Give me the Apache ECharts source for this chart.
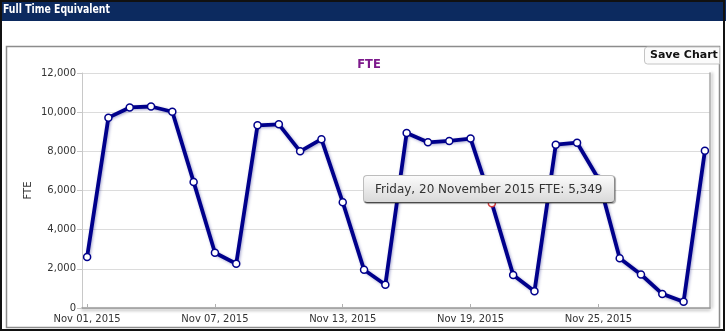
<!DOCTYPE html>
<html>
<head>
<meta charset="utf-8">
<title>Full Time Equivalent</title>
<script src="https://cdn.jsdelivr.net/npm/echarts@6/dist/echarts.min.js"></script>
<style>
  html, body { margin: 0; padding: 0; background: #ffffff; }
  #chart { width: 726px; height: 332px; }
</style>
</head>
<body>
<div id="chart"></div>
<script>
// November 2015, one reading per day
const year = 2015;
const monthIndex = 10;
const days = [1, 2, 3, 4, 5, 6, 7, 8, 9, 10, 11, 12, 13, 14, 15,
              16, 17, 18, 19, 20, 21, 22, 23, 24, 25, 26, 27, 28, 29, 30];
const fte = [2600, 9720, 10240, 10290, 10020, 6440, 2820, 2260, 9330, 9380,
             8000, 8620, 5400, 1950, 1190, 8940, 8460, 8530, 8650, 5349,
             1690, 850, 8340, 8440, 6600, 2540, 1710, 720, 320, 8030];
const tickDays = [1, 7, 13, 19, 25];
const yTicks = [0, 2000, 4000, 6000, 8000, 10000, 12000];
const selectedDay = 20;

const monthShort = ['Jan', 'Feb', 'Mar', 'Apr', 'May', 'Jun', 'Jul', 'Aug', 'Sep', 'Oct', 'Nov', 'Dec'];
const monthLong = ['January', 'February', 'March', 'April', 'May', 'June', 'July',
                   'August', 'September', 'October', 'November', 'December'];
const weekdayLong = ['Sunday', 'Monday', 'Tuesday', 'Wednesday', 'Thursday', 'Friday', 'Saturday'];

const pad2 = n => (n < 10 ? '0' : '') + n;
const fmtNum = v => Math.round(v).toLocaleString('en-US');
const axisDate = d => monthShort[monthIndex] + ' ' + pad2(d) + ', ' + year;
const tipDate = d => {
  const dt = new Date(year, monthIndex, d);
  return weekdayLong[dt.getDay()] + ', ' + d + ' ' + monthLong[monthIndex] + ' ' + year;
};

const lineColor = '#00008b';
const labelFont = '"DejaVu Sans", Verdana, sans-serif';

const seriesData = days.map((d, i) => {
  const item = { value: [d, fte[i]] };
  if (d === selectedDay) {
    item.itemStyle = { color: '#ffffff', borderColor: '#d23a3a', borderWidth: 1.5 };
  }
  return item;
});

const chart = echarts.init(document.getElementById('chart'), null, { renderer: 'canvas' });

const option = {
  animation: false,
  backgroundColor: '#ffffff',
  title: {
    text: 'FTE',
    left: 364,
    top: 54,
    textAlign: 'center',
    textStyle: { color: '#7d1a8c', fontSize: 11.5, fontWeight: 'bold', fontFamily: labelFont }
  },
  graphic: [
    // page frame and header bar
    { type: 'rect', shape: { x: 0, y: 0, width: 726, height: 21 }, style: { fill: '#0c2a5f' }, silent: true },
    { type: 'text', x: 3, y: 3, scaleX: 0.83, originX: 0,
      style: { text: 'Full Time Equivalent', fill: '#ffffff',
        font: 'bold 12.5px "DejaVu Sans Condensed", "DejaVu Sans", sans-serif' }, silent: true },
    { type: 'rect', shape: { x: 1, y: 1, width: 723, height: 329 },
      style: { fill: 'none', stroke: '#111111', lineWidth: 2 }, silent: true },
    // chart panel
    { type: 'rect', shape: { x: 6.5, y: 46.5, width: 713, height: 281 },
      style: { fill: 'none', stroke: '#8c8c8c', lineWidth: 1.5 }, silent: true },
    // save button
    { type: 'rect', shape: { x: 644.5, y: 47, width: 75, height: 17, r: [3, 0, 0, 3] },
      style: { fill: '#fbfbfb', stroke: '#c4c4c4', lineWidth: 1 }, silent: true },
    { type: 'text', left: 650, top: 50, style: { text: 'Save Chart', fill: '#111111',
      font: 'bold 11px "DejaVu Sans", Verdana, sans-serif' }, silent: true }
  ],
  grid: { left: 82, right: 16, top: 73, bottom: 24, containLabel: false },
  tooltip: {
    trigger: 'item',
    triggerOn: 'none',
    alwaysShowContent: true,
    transitionDuration: 0,
    padding: [4, 11, 4, 11],
    backgroundColor: 'transparent',
    borderWidth: 0,
    extraCssText: 'background: linear-gradient(#fbfbfb, #d9d9d9); border: 1px solid #bdbdbd;' +
      'border-bottom-color: #4a4a4a; border-right-color: #8a8a8a; border-radius: 4px;' +
      'box-shadow: 1px 1px 1px rgba(0,0,0,0.35); white-space: nowrap;',
    textStyle: { color: '#333333', fontSize: 12, fontFamily: labelFont },
    formatter: p => tipDate(p.value[0]) + ' FTE: ' + fmtNum(p.value[1])
  },
  xAxis: {
    type: 'value',
    min: days[0] - 0.24,
    max: days[days.length - 1] + 0.24,
    splitLine: { show: false },
    axisLine: { show: true, lineStyle: { color: '#9a9a9a', width: 1.5,
      shadowColor: 'rgba(0,0,0,0.35)', shadowBlur: 3, shadowOffsetY: 2 } },
    axisTick: { show: true, inside: true, length: 4, customValues: tickDays,
      lineStyle: { color: '#b0b0b0' } },
    axisLabel: {
      customValues: tickDays,
      formatter: v => axisDate(v),
      color: '#333333', fontSize: 10, fontFamily: labelFont, margin: 6
    }
  },
  yAxis: [
    {
      type: 'value',
      min: yTicks[0],
      max: yTicks[yTicks.length - 1],
      interval: yTicks[1] - yTicks[0],
      name: 'FTE',
      nameLocation: 'middle',
      nameRotate: 90,
      nameGap: 49,
      nameMoveOverlap: false,
      nameTextStyle: { color: '#333333', fontSize: 10, fontFamily: labelFont },
      axisLine: { show: true, lineStyle: { color: '#c8c8c8' } },
      axisTick: { show: true, length: 5, lineStyle: { color: '#c8c8c8' } },
      axisLabel: { formatter: v => fmtNum(v), color: '#333333', fontSize: 10,
        fontFamily: labelFont, margin: 6 },
      splitLine: { show: true, lineStyle: { color: '#dcdcdc' } }
    },
    {
      type: 'value',
      position: 'right',
      min: yTicks[0],
      max: yTicks[yTicks.length - 1],
      interval: yTicks[1] - yTicks[0],
      axisLine: { show: true, lineStyle: { color: '#a8a8a8', width: 1.5,
        shadowColor: 'rgba(0,0,0,0.3)', shadowBlur: 3, shadowOffsetX: 2 } },
      axisTick: { show: false },
      axisLabel: { show: false },
      splitLine: { show: false }
    }
  ],
  series: [{
    type: 'line',
    name: 'FTE',
    data: seriesData,
    symbol: 'circle',
    symbolSize: 7,
    showSymbol: true,
    itemStyle: { color: '#ffffff', borderColor: lineColor, borderWidth: 1.5 },
    lineStyle: { color: lineColor, width: 3.8,
      shadowColor: 'rgba(0,0,120,0.35)', shadowBlur: 3, shadowOffsetX: 1, shadowOffsetY: 1 },
    emphasis: { disabled: true },
    z: 3
  }]
};

chart.setOption(option);

// Pin the tooltip above-left of the selected day's point
const selIndex = days.indexOf(selectedDay);
const pt = chart.convertToPixel({ seriesIndex: 0 }, [days[selIndex], fte[selIndex]]);
chart.setOption({ tooltip: { position: [pt[0] - 129, pt[1] - 28] } });
chart.dispatchAction({ type: 'showTip', seriesIndex: 0, dataIndex: selIndex });
</script>
</body>
</html>
